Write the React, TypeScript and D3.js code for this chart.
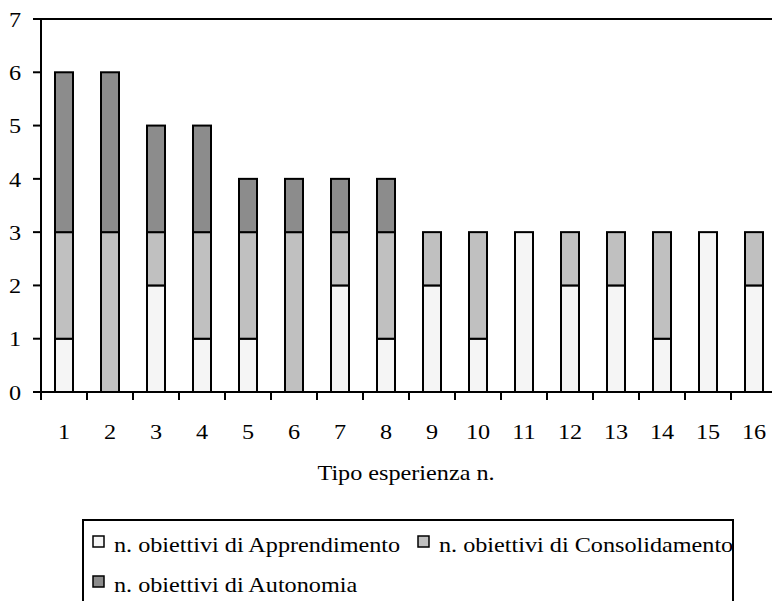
import React from 'react';
import * as d3 from 'd3';

const width = 772, height = 601;
const margin = { top: 19, left: 41, bottom: 392, right: 777 };

// experience numbers on the x axis
const categories = ['1', '2', '3', '4', '5', '6', '7', '8', '9', '10', '11', '12', '13', '14', '15', '16'];
// stacked values per series
const apprendimento = [1, 0, 2, 1, 1, 0, 2, 1, 2, 1, 3, 2, 2, 1, 3, 2];
const consolidamento = [2, 3, 1, 2, 2, 3, 1, 2, 1, 2, 0, 1, 1, 2, 0, 1];
const autonomia = [3, 3, 2, 2, 1, 1, 1, 1, 0, 0, 0, 0, 0, 0, 0, 0];
const yTicks = [0, 1, 2, 3, 4, 5, 6, 7];

const seriesNames = [
  'n. obiettivi di Apprendimento',
  'n. obiettivi di Consolidamento',
  'n. obiettivi di Autonomia',
];
const colors = ['#f5f5f5', '#c0c0c0', '#8c8c8c'];
const xTitle = 'Tipo esperienza n.';

const font = '"Liberation Serif", "Times New Roman", serif';

// text is slightly wider than tall in the original
function Label({ x, y, anchor = 'start', dy, children }: any) {
  return (
    <text transform={`translate(${x},${y}) scale(1.1,1)`} dy={dy} textAnchor={anchor}
      fontFamily={font} fontSize={22}>{children}</text>
  );
}

export default function App() {
  const rows = categories.map((c, i) => ({
    cat: c,
    a: apprendimento[i],
    c: consolidamento[i],
    u: autonomia[i],
  }));
  const stack = d3.stack<any>().keys(['a', 'c', 'u'])(rows);

  const x = d3.scaleBand()
    .domain(categories)
    .range([margin.left, margin.right])
    .paddingInner(28 / 46)
    .paddingOuter(14 / 46);
  const step = x.step();

  const y = d3.scaleLinear()
    .domain([0, 7])
    .range([margin.bottom, margin.top]);

  // legend layout
  const legend = [
    { sx: 93, sy: 536, tx: 114, ty: 552 },
    { sx: 418, sy: 536, tx: 439, ty: 552 },
    { sx: 93, sy: 576, tx: 114, ty: 592 },
  ];

  return (
    <div style={{ position: 'absolute', left: 0, top: 0 }}>
      <svg width={width} height={height} viewBox={`0 0 ${width} ${height}`} style={{ display: 'block' }}>
        <rect x={0} y={0} width={width} height={height} fill="#fff" />

        {/* stacked bars */}
        {stack.map((layer, li) => (
          <g key={li}>
            {layer.map((d, i) => d[1] - d[0] > 0 ? (
              <rect key={i}
                x={x(categories[i])}
                y={y(d[1])}
                width={x.bandwidth()}
                height={y(d[0]) - y(d[1])}
                fill={colors[li]}
                stroke="#000"
                strokeWidth={2} />
            ) : null)}
          </g>
        ))}

        {/* top border */}
        <line x1={margin.left} x2={width} y1={y(7)} y2={y(7)} stroke="#000" strokeWidth={2} />
        {/* y axis */}
        <line x1={margin.left} x2={margin.left} y1={y(7) - 1} y2={margin.bottom + 8} stroke="#000" strokeWidth={2} />
        {yTicks.map(t => (
          <g key={t}>
            <line x1={margin.left - 8} x2={margin.left} y1={y(t)} y2={y(t)} stroke="#000" strokeWidth={2} />
            <Label x={21} y={y(t)} dy="0.35em" anchor="end">{t}</Label>
          </g>
        ))}
        {/* x axis */}
        <line x1={margin.left - 8} x2={width} y1={y(0)} y2={y(0)} stroke="#000" strokeWidth={2} />
        {categories.map((c, i) => (
          <g key={c}>
            <line x1={margin.left + i * step} x2={margin.left + i * step} y1={y(0)} y2={y(0) + 8} stroke="#000" strokeWidth={2} />
            <Label x={(x(c) as number) + x.bandwidth() / 2} y={439} anchor="middle">{c}</Label>
          </g>
        ))}
        <Label x={406} y={480} anchor="middle">{xTitle}</Label>

        {/* legend */}
        <rect x={83} y={520} width={650} height={100} fill="#fff" stroke="#000" strokeWidth={2} />
        {seriesNames.map((name, i) => (
          <g key={name}>
            <rect x={legend[i].sx} y={legend[i].sy} width={11} height={11} fill={colors[i]} stroke="#000" strokeWidth={1.5} />
            <Label x={legend[i].tx} y={legend[i].ty}>{name}</Label>
          </g>
        ))}
      </svg>
    </div>
  );
}
